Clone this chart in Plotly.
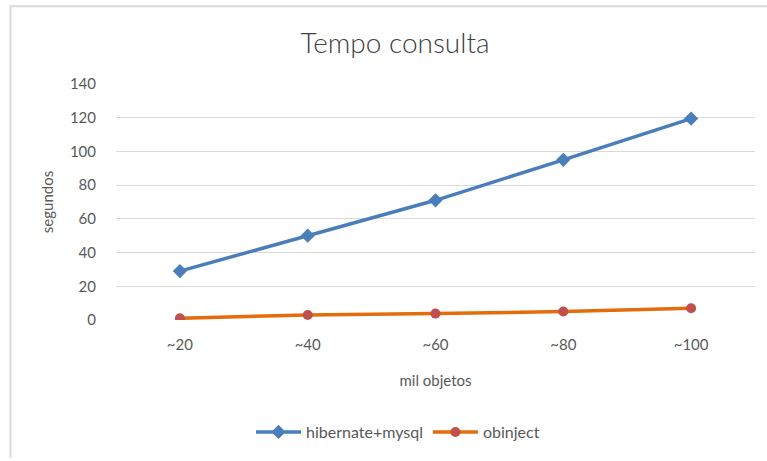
import plotly.graph_objects as go

categories = ["~20", "~40", "~60", "~80", "~100"]
hibernate_mysql = [29, 50, 71, 95, 119.5]
obinject = [1, 3, 3.8, 5, 7]
y_ticks = [0, 20, 40, 60, 80, 100, 120, 140]

W, H = 767, 461
L, R, T, B = 116, 12, 84, 139
pw, ph = W - L - R, H - T - B

def px(x):
    return (x - L) / pw

def py(y):
    return (H - B - y) / ph

font = "Lato, 'Open Sans', sans-serif"
gray = "#595959"

fig = go.Figure()
fig.add_trace(go.Scatter(
    x=categories, y=hibernate_mysql, name="hibernate+mysql",
    mode="lines+markers",
    line=dict(color="#4a7ebb", width=3.5),
    marker=dict(symbol="diamond", size=11, color="#4a7ebb"),
))
fig.add_trace(go.Scatter(
    x=categories, y=obinject, name="obinject",
    mode="lines+markers",
    line=dict(color="#e46c0a", width=3.5),
    marker=dict(symbol="circle", size=10, color="#c0504d"),
))

fig.update_layout(
    width=W, height=H,
    margin=dict(l=L, r=R, t=T, b=B),
    paper_bgcolor="white", plot_bgcolor="white",
    font=dict(family=font, color=gray, size=15),
    title=dict(text="Tempo consulta", x=395 / W, xanchor="center", xref="container",
               y=1 - 43 / H, yanchor="middle",
               font=dict(size=28, color="#404040", family=font, weight=300)),
    showlegend=True,
    legend=dict(orientation="h", x=px(398), xanchor="center",
                y=py(435), yanchor="middle",
                font=dict(size=16, color=gray), itemwidth=45,
                traceorder="normal"),
    xaxis=dict(type="category", range=[-0.5, 4.5], showgrid=False,
               showline=False, ticks="", zeroline=False,
               ticklabelstandoff=14,
               tickfont=dict(size=15, color=gray),
               title=dict(text="mil objetos", font=dict(size=15, color=gray), standoff=23)),
    yaxis=dict(range=[0, 140], tickvals=y_ticks, showgrid=True,
               gridcolor="#d9d9d9", gridwidth=1, zeroline=False,
               showline=False, ticks="", ticklabelstandoff=19,
               tickfont=dict(size=15, color=gray),
               title=dict(text="segundos", font=dict(size=15, color=gray), standoff=12)),
    shapes=[
        dict(type="line", xref="paper", yref="paper",
             x0=px(10), x1=px(767), y0=py(5.5), y1=py(5.5),
             line=dict(color="#d9d9d9", width=2)),
        dict(type="line", xref="paper", yref="paper",
             x0=px(10.5), x1=px(10.5), y0=py(5.5), y1=py(461),
             line=dict(color="#d9d9d9", width=2)),
    ],
)

fig.write_html("out.html", config={"displayModeBar": False},
               post_script="document.body.style.margin='0';")
